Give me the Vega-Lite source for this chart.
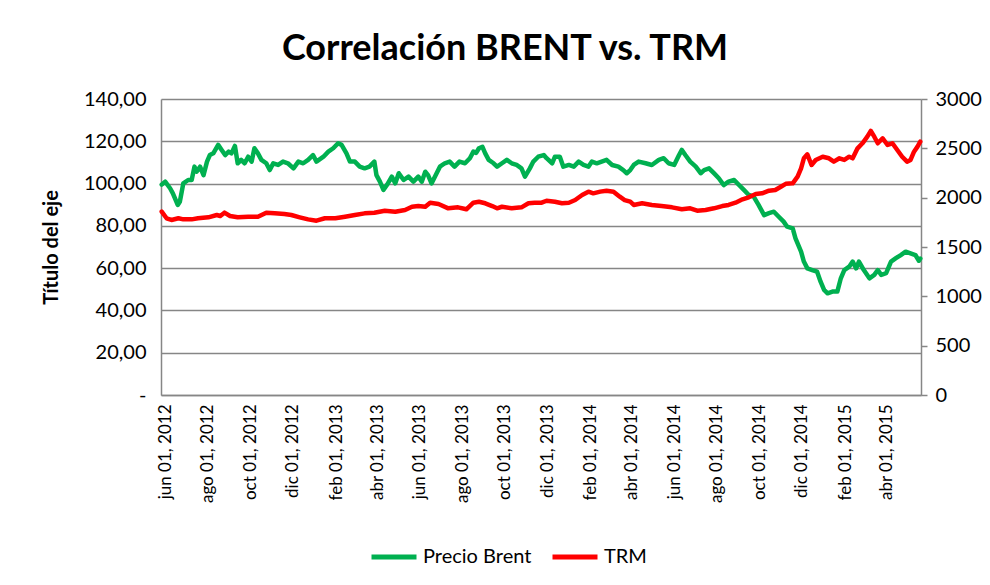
{
"$schema": "https://vega.github.io/schema/vega-lite/v6.json",
"width": 760, "height": 296,
"autosize": {"type": "none"},
"padding": {"left": 161, "top": 99, "right": 69, "bottom": 190},
"background": "white",
"config": {"font": "Lato", "view": {"stroke": null}},
"title": {"text": "Correlación BRENT vs. TRM", "fontSize": 36, "fontWeight": "bold", "font": "Lato", "color": "black", "anchor": "middle", "dx": -36, "offset": 21},
"datasets": {
"brent": [
{"fecha":"2012-05-27","valor":99.5},{"fecha":"2012-06-01","valor":100.9},{"fecha":"2012-06-08","valor":97.8},{"fecha":"2012-06-12","valor":95.4},{"fecha":"2012-06-19","valor":89.9},{"fecha":"2012-06-22","valor":91.4},{"fecha":"2012-06-27","valor":100.1},{"fecha":"2012-07-04","valor":101.7},{"fecha":"2012-07-09","valor":101.7},{"fecha":"2012-07-13","valor":108},{"fecha":"2012-07-16","valor":105.6},{"fecha":"2012-07-21","valor":108},{"fecha":"2012-07-26","valor":104},{"fecha":"2012-07-31","valor":110.4},{"fecha":"2012-08-04","valor":113.5},{"fecha":"2012-08-09","valor":114.3},{"fecha":"2012-08-16","valor":118.3},{"fecha":"2012-08-21","valor":115.9},{"fecha":"2012-08-26","valor":113.5},{"fecha":"2012-08-31","valor":115.1},{"fecha":"2012-09-04","valor":114.3},{"fecha":"2012-09-09","valor":117.8},{"fecha":"2012-09-13","valor":109.6},{"fecha":"2012-09-18","valor":111.2},{"fecha":"2012-09-23","valor":109.6},{"fecha":"2012-09-28","valor":112.7},{"fecha":"2012-10-03","valor":110.4},{"fecha":"2012-10-07","valor":116.7},{"fecha":"2012-10-12","valor":114.3},{"fecha":"2012-10-17","valor":111.2},{"fecha":"2012-10-24","valor":109.6},{"fecha":"2012-10-29","valor":106.4},{"fecha":"2012-11-03","valor":109.6},{"fecha":"2012-11-10","valor":108.8},{"fecha":"2012-11-17","valor":110.4},{"fecha":"2012-11-24","valor":109.6},{"fecha":"2012-12-02","valor":107.2},{"fecha":"2012-12-09","valor":110.4},{"fecha":"2012-12-16","valor":109.6},{"fecha":"2012-12-23","valor":111.2},{"fecha":"2012-12-30","valor":113.5},{"fecha":"2013-01-04","valor":110.4},{"fecha":"2013-01-14","valor":112.7},{"fecha":"2013-01-21","valor":115.1},{"fecha":"2013-01-28","valor":116.7},{"fecha":"2013-02-04","valor":119.1},{"fecha":"2013-02-09","valor":118.3},{"fecha":"2013-02-16","valor":114.3},{"fecha":"2013-02-21","valor":110.4},{"fecha":"2013-02-28","valor":110.4},{"fecha":"2013-03-07","valor":108},{"fecha":"2013-03-14","valor":107.2},{"fecha":"2013-03-21","valor":108},{"fecha":"2013-03-28","valor":110.4},{"fecha":"2013-03-31","valor":104},{"fecha":"2013-04-05","valor":100.9},{"fecha":"2013-04-10","valor":97},{"fecha":"2013-04-15","valor":99.3},{"fecha":"2013-04-22","valor":103.3},{"fecha":"2013-04-27","valor":100.1},{"fecha":"2013-05-02","valor":104.9},{"fecha":"2013-05-09","valor":101.7},{"fecha":"2013-05-16","valor":103.3},{"fecha":"2013-05-23","valor":100.9},{"fecha":"2013-05-30","valor":103.3},{"fecha":"2013-06-04","valor":100.9},{"fecha":"2013-06-09","valor":105.6},{"fecha":"2013-06-13","valor":104},{"fecha":"2013-06-18","valor":100.1},{"fecha":"2013-06-23","valor":103.3},{"fecha":"2013-06-30","valor":108},{"fecha":"2013-07-07","valor":109.6},{"fecha":"2013-07-14","valor":110.4},{"fecha":"2013-07-21","valor":108},{"fecha":"2013-07-28","valor":110.4},{"fecha":"2013-08-05","valor":109.6},{"fecha":"2013-08-12","valor":112},{"fecha":"2013-08-17","valor":115.1},{"fecha":"2013-08-21","valor":114.5},{"fecha":"2013-08-25","valor":116.7},{"fecha":"2013-08-30","valor":117.4},{"fecha":"2013-09-03","valor":114.3},{"fecha":"2013-09-08","valor":111.2},{"fecha":"2013-09-15","valor":109.6},{"fecha":"2013-09-20","valor":108},{"fecha":"2013-09-27","valor":109.6},{"fecha":"2013-10-04","valor":111.2},{"fecha":"2013-10-11","valor":109.6},{"fecha":"2013-10-18","valor":108.8},{"fecha":"2013-10-25","valor":107.2},{"fecha":"2013-10-30","valor":103.3},{"fecha":"2013-11-06","valor":107.2},{"fecha":"2013-11-11","valor":110.4},{"fecha":"2013-11-18","valor":112.7},{"fecha":"2013-11-26","valor":113.5},{"fecha":"2013-11-30","valor":112},{"fecha":"2013-12-08","valor":109.6},{"fecha":"2013-12-12","valor":112.7},{"fecha":"2013-12-19","valor":112.7},{"fecha":"2013-12-24","valor":108},{"fecha":"2014-01-01","valor":108.8},{"fecha":"2014-01-08","valor":108},{"fecha":"2014-01-15","valor":110.4},{"fecha":"2014-01-22","valor":108.8},{"fecha":"2014-01-29","valor":108},{"fecha":"2014-02-03","valor":110.4},{"fecha":"2014-02-10","valor":109.6},{"fecha":"2014-02-17","valor":110.4},{"fecha":"2014-02-24","valor":111.2},{"fecha":"2014-03-04","valor":108.8},{"fecha":"2014-03-13","valor":108},{"fecha":"2014-03-20","valor":106.4},{"fecha":"2014-03-25","valor":104.9},{"fecha":"2014-03-30","valor":106.4},{"fecha":"2014-04-04","valor":108.8},{"fecha":"2014-04-11","valor":110.4},{"fecha":"2014-04-21","valor":109.6},{"fecha":"2014-04-30","valor":108.8},{"fecha":"2014-05-10","valor":111.2},{"fecha":"2014-05-17","valor":112},{"fecha":"2014-05-24","valor":109.6},{"fecha":"2014-06-01","valor":108.8},{"fecha":"2014-06-08","valor":113.5},{"fecha":"2014-06-12","valor":115.9},{"fecha":"2014-06-17","valor":113.5},{"fecha":"2014-06-24","valor":110.4},{"fecha":"2014-07-02","valor":108},{"fecha":"2014-07-09","valor":104.9},{"fecha":"2014-07-14","valor":106.4},{"fecha":"2014-07-21","valor":107.2},{"fecha":"2014-07-28","valor":104.9},{"fecha":"2014-08-04","valor":102.5},{"fecha":"2014-08-11","valor":99.3},{"fecha":"2014-08-18","valor":100.9},{"fecha":"2014-08-26","valor":101.7},{"fecha":"2014-09-02","valor":99.3},{"fecha":"2014-09-09","valor":97},{"fecha":"2014-09-16","valor":94.6},{"fecha":"2014-09-23","valor":93.8},{"fecha":"2014-09-30","valor":89.9},{"fecha":"2014-10-08","valor":85.1},{"fecha":"2014-10-15","valor":86},{"fecha":"2014-10-22","valor":86.7},{"fecha":"2014-10-29","valor":84.3},{"fecha":"2014-11-05","valor":82},{"fecha":"2014-11-10","valor":79.6},{"fecha":"2014-11-18","valor":78.8},{"fecha":"2014-11-22","valor":74.1},{"fecha":"2014-11-30","valor":67.8},{"fecha":"2014-12-04","valor":63.1},{"fecha":"2014-12-09","valor":59.9},{"fecha":"2014-12-16","valor":59.1},{"fecha":"2014-12-23","valor":58.3},{"fecha":"2014-12-28","valor":53.6},{"fecha":"2015-01-02","valor":49.7},{"fecha":"2015-01-07","valor":48.1},{"fecha":"2015-01-14","valor":48.9},{"fecha":"2015-01-21","valor":48.9},{"fecha":"2015-01-26","valor":55.2},{"fecha":"2015-01-31","valor":59.1},{"fecha":"2015-02-07","valor":60.7},{"fecha":"2015-02-12","valor":63.1},{"fecha":"2015-02-17","valor":59.9},{"fecha":"2015-02-21","valor":63.1},{"fecha":"2015-02-28","valor":59.1},{"fecha":"2015-03-08","valor":55.2},{"fecha":"2015-03-15","valor":56.8},{"fecha":"2015-03-20","valor":59.1},{"fecha":"2015-03-25","valor":56.8},{"fecha":"2015-04-01","valor":57.6},{"fecha":"2015-04-08","valor":63.1},{"fecha":"2015-04-15","valor":64.7},{"fecha":"2015-04-22","valor":66.2},{"fecha":"2015-04-29","valor":67.8},{"fecha":"2015-05-06","valor":67},{"fecha":"2015-05-13","valor":66.2},{"fecha":"2015-05-18","valor":63.5},{"fecha":"2015-05-20","valor":64.5}
],
"trm": [
{"fecha":"2012-05-27","valor":1858},{"fecha":"2012-06-03","valor":1791},{"fecha":"2012-06-10","valor":1774},{"fecha":"2012-06-20","valor":1791},{"fecha":"2012-06-27","valor":1780},{"fecha":"2012-07-09","valor":1780},{"fecha":"2012-07-18","valor":1791},{"fecha":"2012-08-02","valor":1801},{"fecha":"2012-08-14","valor":1824},{"fecha":"2012-08-19","valor":1814},{"fecha":"2012-08-25","valor":1848},{"fecha":"2012-09-02","valor":1814},{"fecha":"2012-09-13","valor":1801},{"fecha":"2012-09-28","valor":1807},{"fecha":"2012-10-12","valor":1807},{"fecha":"2012-10-24","valor":1848},{"fecha":"2012-11-05","valor":1841},{"fecha":"2012-11-19","valor":1834},{"fecha":"2012-11-29","valor":1824},{"fecha":"2012-12-11","valor":1801},{"fecha":"2012-12-23","valor":1780},{"fecha":"2013-01-04","valor":1767},{"fecha":"2013-01-16","valor":1791},{"fecha":"2013-01-31","valor":1791},{"fecha":"2013-02-14","valor":1807},{"fecha":"2013-02-28","valor":1824},{"fecha":"2013-03-14","valor":1841},{"fecha":"2013-03-28","valor":1848},{"fecha":"2013-04-12","valor":1868},{"fecha":"2013-04-27","valor":1858},{"fecha":"2013-05-11","valor":1875},{"fecha":"2013-05-21","valor":1908},{"fecha":"2013-05-30","valor":1915},{"fecha":"2013-06-09","valor":1908},{"fecha":"2013-06-16","valor":1949},{"fecha":"2013-06-28","valor":1936},{"fecha":"2013-07-12","valor":1892},{"fecha":"2013-07-26","valor":1902},{"fecha":"2013-08-07","valor":1882},{"fecha":"2013-08-17","valor":1949},{"fecha":"2013-08-25","valor":1959},{"fecha":"2013-09-03","valor":1943},{"fecha":"2013-09-13","valor":1915},{"fecha":"2013-09-20","valor":1892},{"fecha":"2013-09-27","valor":1908},{"fecha":"2013-10-11","valor":1892},{"fecha":"2013-10-25","valor":1902},{"fecha":"2013-11-04","valor":1943},{"fecha":"2013-11-13","valor":1949},{"fecha":"2013-11-23","valor":1949},{"fecha":"2013-11-30","valor":1969},{"fecha":"2013-12-12","valor":1959},{"fecha":"2013-12-22","valor":1943},{"fecha":"2014-01-01","valor":1949},{"fecha":"2014-01-10","valor":1976},{"fecha":"2014-01-20","valor":2027},{"fecha":"2014-01-29","valor":2061},{"fecha":"2014-02-05","valor":2044},{"fecha":"2014-02-15","valor":2061},{"fecha":"2014-02-24","valor":2071},{"fecha":"2014-03-06","valor":2061},{"fecha":"2014-03-15","valor":2010},{"fecha":"2014-03-22","valor":1976},{"fecha":"2014-03-30","valor":1959},{"fecha":"2014-04-04","valor":1926},{"fecha":"2014-04-16","valor":1943},{"fecha":"2014-04-30","valor":1926},{"fecha":"2014-05-14","valor":1915},{"fecha":"2014-05-29","valor":1902},{"fecha":"2014-06-12","valor":1882},{"fecha":"2014-06-24","valor":1892},{"fecha":"2014-07-04","valor":1868},{"fecha":"2014-07-16","valor":1875},{"fecha":"2014-07-28","valor":1892},{"fecha":"2014-08-09","valor":1915},{"fecha":"2014-08-18","valor":1926},{"fecha":"2014-08-28","valor":1949},{"fecha":"2014-09-07","valor":1983},{"fecha":"2014-09-16","valor":2004},{"fecha":"2014-09-26","valor":2037},{"fecha":"2014-10-05","valor":2044},{"fecha":"2014-10-15","valor":2071},{"fecha":"2014-10-24","valor":2078},{"fecha":"2014-11-01","valor":2111},{"fecha":"2014-11-08","valor":2140},{"fecha":"2014-11-18","valor":2145},{"fecha":"2014-11-25","valor":2213},{"fecha":"2014-11-30","valor":2297},{"fecha":"2014-12-04","valor":2399},{"fecha":"2014-12-09","valor":2439},{"fecha":"2014-12-15","valor":2331},{"fecha":"2014-12-21","valor":2382},{"fecha":"2014-12-31","valor":2415},{"fecha":"2015-01-09","valor":2399},{"fecha":"2015-01-16","valor":2365},{"fecha":"2015-01-24","valor":2399},{"fecha":"2015-01-31","valor":2382},{"fecha":"2015-02-07","valor":2415},{"fecha":"2015-02-12","valor":2399},{"fecha":"2015-02-19","valor":2500},{"fecha":"2015-02-26","valor":2551},{"fecha":"2015-03-05","valor":2618},{"fecha":"2015-03-10","valor":2676},{"fecha":"2015-03-15","valor":2618},{"fecha":"2015-03-20","valor":2551},{"fecha":"2015-03-27","valor":2602},{"fecha":"2015-04-03","valor":2534},{"fecha":"2015-04-10","valor":2551},{"fecha":"2015-04-17","valor":2483},{"fecha":"2015-04-24","valor":2415},{"fecha":"2015-05-01","valor":2365},{"fecha":"2015-05-06","valor":2382},{"fecha":"2015-05-11","valor":2466},{"fecha":"2015-05-16","valor":2517},{"fecha":"2015-05-20","valor":2567}
]
},
"encoding": {
  "x": {"field": "fecha", "type": "temporal",
    "scale": {"type": "utc", "domain": [{"year":2012,"month":5,"date":26,"utc":true},{"year":2015,"month":5,"date":21,"utc":true}]},
    "axis": {"title": null,
      "values": [{"year":2012,"month":6,"date":1,"utc":true},{"year":2012,"month":8,"date":1,"utc":true},{"year":2012,"month":10,"date":1,"utc":true},{"year":2012,"month":12,"date":1,"utc":true},{"year":2013,"month":2,"date":1,"utc":true},{"year":2013,"month":4,"date":1,"utc":true},{"year":2013,"month":6,"date":1,"utc":true},{"year":2013,"month":8,"date":1,"utc":true},{"year":2013,"month":10,"date":1,"utc":true},{"year":2013,"month":12,"date":1,"utc":true},{"year":2014,"month":2,"date":1,"utc":true},{"year":2014,"month":4,"date":1,"utc":true},{"year":2014,"month":6,"date":1,"utc":true},{"year":2014,"month":8,"date":1,"utc":true},{"year":2014,"month":10,"date":1,"utc":true},{"year":2014,"month":12,"date":1,"utc":true},{"year":2015,"month":2,"date":1,"utc":true},{"year":2015,"month":4,"date":1,"utc":true}],
      "labelExpr": "['ene','feb','mar','abr','may','jun','jul','ago','sep','oct','nov','dic'][utcmonth(datum.value)] + ' ' + utcFormat(datum.value, '%d, %Y')",
      "labelAngle": 270, "labelAlign": "right", "labelBaseline": "middle",
      "ticks": false, "grid": false, "domainColor": "#868686", "domainWidth": 1.5,
      "labelPadding": 9, "labelFontSize": 17, "labelColor": "black", "labelFont": "Lato", "labelOverlap": false}
  }
},
"layer": [
  {"data": {"name": "brent"},
   "mark": {"type": "line", "strokeWidth": 4.5, "strokeJoin": "round", "strokeCap": "round"},
   "encoding": {
     "y": {"field": "valor", "type": "quantitative", "scale": {"domain": [0, 140]},
       "axis": {"title": "Título del eje", "values": [0,20,40,60,80,100,120,140],
         "labelExpr": "datum.value == 0 ? '-\u00a0\u00a0\u00a0\u00a0\u00a0\u00a0' : replace(format(datum.value, '.2f'), '.', ',')",
         "grid": true, "gridColor": "#868686", "gridWidth": 1.3, "domainColor": "#868686", "domainWidth": 1.5,
         "ticks": false, "labelPadding": 15, "labelFontSize": 20, "labelColor": "black", "labelFont": "Lato",
         "titleFontSize": 20, "titleFontWeight": "bold", "titleColor": "black", "titleFont": "Lato", "titlePadding": 22}},
     "color": {"datum": "Precio Brent", "type": "nominal", "scale": {"domain": ["Precio Brent", "TRM"], "range": ["#00B050", "#FF0000"]},
       "legend": {"title": null, "orient": "none", "legendX": 208, "legendY": 433, "direction": "horizontal", "symbolType": "stroke", "symbolSize": 2025, "symbolStrokeWidth": 5, "labelFontSize": 20, "labelFont": "Lato", "labelColor": "black", "columnPadding": 10, "labelOffset": 4, "padding": 0}}
   }},
  {"data": {"name": "trm"},
   "mark": {"type": "line", "strokeWidth": 4.5, "strokeJoin": "round", "strokeCap": "round"},
   "encoding": {
     "y": {"field": "valor", "type": "quantitative", "scale": {"domain": [0, 3000]},
       "axis": {"orient": "right", "title": null, "values": [0,500,1000,1500,2000,2500,3000], "format": "d",
         "grid": false, "domainColor": "#868686", "domainWidth": 1.5, "tickColor": "#868686", "tickWidth": 1.5, "ticks": true, "tickSize": 6,
         "labelPadding": 8, "labelFontSize": 20, "labelColor": "black", "labelFont": "Lato"}},
     "color": {"datum": "TRM", "type": "nominal", "scale": {"domain": ["Precio Brent", "TRM"], "range": ["#00B050", "#FF0000"]},
       "legend": {"title": null, "orient": "none", "legendX": 208, "legendY": 433, "direction": "horizontal", "symbolType": "stroke", "symbolSize": 2025, "symbolStrokeWidth": 5, "labelFontSize": 20, "labelFont": "Lato", "labelColor": "black", "columnPadding": 10, "labelOffset": 4, "padding": 0}}
   }}
],
"resolve": {"scale": {"y": "independent"}}
}
